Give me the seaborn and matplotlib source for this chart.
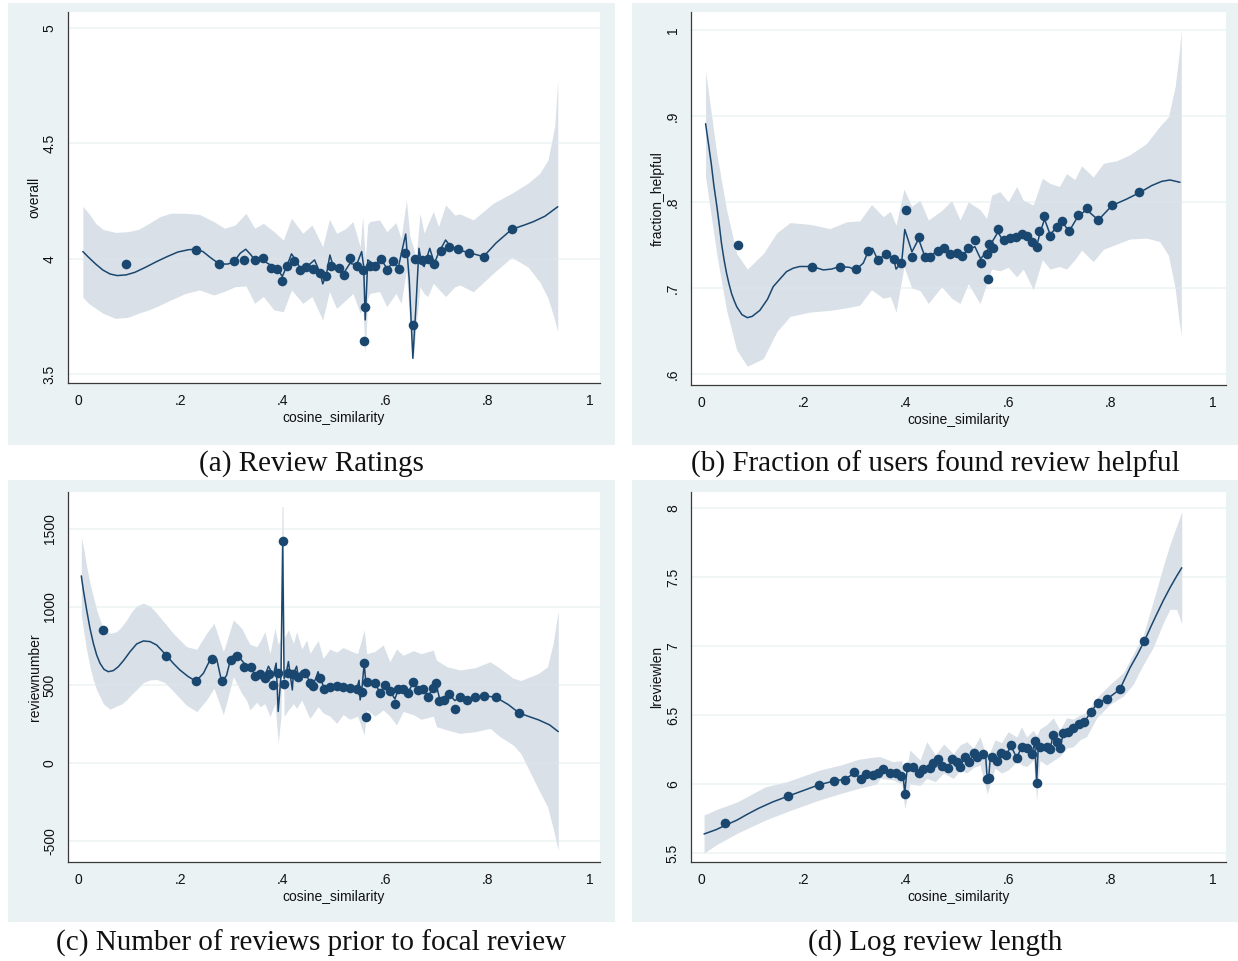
import numpy as np
import pandas as pd
import matplotlib
matplotlib.use("Agg")
import matplotlib.pyplot as plt
from matplotlib.patches import Rectangle
from matplotlib.ticker import FixedLocator, FuncFormatter
import seaborn as sns

# ---------------- (a) Review ratings ----------------
a_dot_x = [0.094, 0.230, 0.276, 0.304, 0.325, 0.345, 0.361, 0.376, 0.389, 0.399, 0.408, 0.421,
           0.434, 0.446, 0.459, 0.473, 0.485, 0.495, 0.509, 0.519, 0.531, 0.544, 0.556, 0.561,
           0.559, 0.570, 0.580, 0.592, 0.603, 0.616, 0.626, 0.639, 0.654, 0.659, 0.671, 0.683,
           0.696, 0.708, 0.724, 0.743, 0.764, 0.792, 0.847]
a_dot_y = [3.980, 4.039, 3.978, 3.990, 3.996, 3.996, 4.004, 3.962, 3.955, 3.903, 3.971, 3.993,
           3.952, 3.964, 3.955, 3.938, 3.928, 3.970, 3.960, 3.932, 4.003, 3.971, 3.952, 3.794,
           3.646, 3.970, 3.970, 4.001, 3.950, 3.991, 3.957, 4.027, 3.714, 4.001, 3.996, 4.001,
           3.978, 4.036, 4.053, 4.042, 4.027, 4.010, 4.128]
a_fit_x = [0.0095, 0.0207, 0.0346, 0.0486, 0.0625, 0.0765, 0.094, 0.111, 0.132, 0.153, 0.174,
           0.195, 0.216, 0.230, 0.244, 0.258, 0.276,
           0.2927, 0.304, 0.317, 0.3276, 0.338, 0.345, 0.361, 0.376, 0.389, 0.399, 0.408, 0.417,
           0.425, 0.434, 0.446, 0.462, 0.473, 0.478, 0.485, 0.492, 0.499, 0.509, 0.519, 0.531,
           0.544, 0.554, 0.558, 0.561, 0.566, 0.579, 0.592, 0.603, 0.616, 0.626, 0.640, 0.647,
           0.654, 0.660, 0.666, 0.671, 0.676, 0.687, 0.696, 0.704, 0.718, 0.725, 0.743, 0.764,
           0.792, 0.816, 0.847, 0.872, 0.889, 0.912, 0.937]
a_fit_y = [4.032, 4.007, 3.978, 3.952, 3.935, 3.928, 3.931, 3.942, 3.964, 3.988, 4.010,
           4.030, 4.040, 4.042, 4.032, 4.007, 3.978,
           3.978, 3.987, 4.025, 4.042, 4.017, 3.996, 3.993, 3.974, 3.960, 3.924, 3.970, 4.022,
           3.996, 3.960, 3.964, 3.996, 3.938, 3.892, 3.931, 4.017, 3.964, 3.960, 3.938, 3.981,
           3.974, 4.032, 3.967, 3.736, 3.996, 3.974, 3.999, 3.960, 3.981, 3.967, 4.108, 3.909,
           3.570, 3.794, 4.046, 3.981, 3.967, 4.046, 3.981, 4.025, 4.082, 4.061, 4.039, 4.027,
           4.010, 4.068, 4.128, 4.147, 4.161, 4.185, 4.226]
a_band_x = [0.0095, 0.0207, 0.0346, 0.0486, 0.073, 0.097, 0.118, 0.139, 0.160, 0.181, 0.209,
            0.237, 0.265, 0.286, 0.307, 0.328, 0.345,
            0.362, 0.383, 0.401, 0.417, 0.439, 0.457, 0.478, 0.491, 0.505, 0.522, 0.537, 0.551,
            0.556, 0.561, 0.566, 0.570, 0.589, 0.603, 0.621, 0.631, 0.6414, 0.648, 0.655, 0.660,
            0.668, 0.676, 0.683, 0.694, 0.704, 0.718, 0.736, 0.746, 0.772, 0.811, 0.847, 0.879,
            0.902, 0.918, 0.931, 0.937]
a_band_hi = [4.227, 4.198, 4.154, 4.128, 4.115, 4.118, 4.128, 4.154, 4.183, 4.198, 4.198,
             4.193, 4.162, 4.133, 4.147, 4.198, 4.133,
             4.154, 4.118, 4.082, 4.176, 4.111, 4.147, 4.053, 4.172, 4.111, 4.130, 4.162, 4.053,
             4.183, 4.000, 4.150, 4.162, 4.169, 4.118, 4.157, 4.089, 4.255, 4.100, 4.050, 4.000,
             4.198, 4.111, 4.150, 4.205, 4.140, 4.234, 4.190, 4.195, 4.169, 4.241, 4.284, 4.328,
             4.371, 4.429, 4.574, 4.772]
a_band_lo = [3.834, 3.808, 3.786, 3.765, 3.743, 3.747, 3.765, 3.780, 3.800, 3.822, 3.850,
             3.866, 3.844, 3.860, 3.880, 3.883, 3.808,
             3.837, 3.779, 3.772, 3.866, 3.808, 3.837, 3.736, 3.859, 3.786, 3.820, 3.851, 3.765,
             3.800, 3.592, 3.830, 3.851, 3.859, 3.794, 3.851, 3.808, 3.950, 3.720, 3.563, 3.700,
             3.880, 3.850, 3.837, 3.895, 3.870, 3.837, 3.880, 3.887, 3.858, 3.938, 4.007, 3.965,
             3.900, 3.830, 3.736, 3.685]

# ---------------- (b) Fraction helpful ----------------
b_dot_x = [0.0716, 0.2168, 0.2715, 0.302, 0.327, 0.345, 0.361, 0.377, 0.3906, 0.4004, 0.412,
           0.4251, 0.4375, 0.4473, 0.4635, 0.4753, 0.4863, 0.4993, 0.509, 0.522, 0.5345, 0.546,
           0.558, 0.560, 0.5632, 0.5697, 0.5807, 0.5918, 0.6035, 0.6152, 0.6263, 0.636, 0.646,
           0.6556, 0.660, 0.6706, 0.6816, 0.6947, 0.7045, 0.7194, 0.7357, 0.7533, 0.776, 0.8034,
           0.856]
b_dot_y = [0.750, 0.7248, 0.7248, 0.7217, 0.7434, 0.7326, 0.7392, 0.7334, 0.7287, 0.7907, 0.7357,
           0.7597, 0.7364, 0.7357, 0.7434, 0.7461, 0.7395, 0.7410, 0.7372, 0.7461, 0.7558, 0.7287,
           0.7395, 0.7105, 0.7512, 0.7461, 0.7686, 0.7558, 0.7578, 0.7597, 0.7624, 0.7608, 0.7539,
           0.7480, 0.7663, 0.7837, 0.7605, 0.7713, 0.7783, 0.7663, 0.7845, 0.7926, 0.7790, 0.7961,
           0.8113]
b_fit_x = [0.009, 0.015, 0.02, 0.025, 0.031, 0.036, 0.04, 0.045, 0.050, 0.055, 0.06, 0.065,
           0.070, 0.08, 0.0905, 0.10, 0.115, 0.13, 0.141,
           0.155, 0.167, 0.18, 0.193, 0.217, 0.239, 0.255, 0.2715, 0.29, 0.302, 0.317, 0.327,
           0.335, 0.345, 0.361, 0.376, 0.381, 0.392, 0.398, 0.404, 0.412, 0.425, 0.437, 0.451,
           0.4616, 0.475, 0.486, 0.50, 0.509, 0.522, 0.535, 0.546, 0.558, 0.565, 0.58, 0.592,
           0.603, 0.615, 0.626, 0.636, 0.646, 0.656, 0.662, 0.671, 0.682, 0.695, 0.705, 0.719,
           0.736, 0.753, 0.776, 0.803, 0.83, 0.857, 0.88, 0.90, 0.916, 0.9355]
b_fit_y = [0.891, 0.866, 0.845, 0.820, 0.795, 0.772, 0.752, 0.733, 0.717, 0.704, 0.693, 0.685,
           0.678, 0.669, 0.6655, 0.667, 0.674, 0.687, 0.7015,
           0.711, 0.719, 0.723, 0.725, 0.725, 0.721, 0.722, 0.725, 0.724, 0.721, 0.729,
           0.743, 0.746, 0.733, 0.739, 0.735, 0.722, 0.730, 0.768, 0.757, 0.742, 0.757, 0.737,
           0.738, 0.744, 0.746, 0.739, 0.741, 0.737, 0.745, 0.748, 0.734, 0.742, 0.750, 0.765,
           0.753, 0.759, 0.759, 0.762, 0.760, 0.750, 0.749, 0.764, 0.780, 0.762, 0.771, 0.777,
           0.766, 0.783, 0.791, 0.779, 0.796, 0.803, 0.811, 0.819, 0.824, 0.8256, 0.8229]
b_band_x = [0.009, 0.0306, 0.050, 0.0697, 0.0905, 0.1217, 0.148, 0.174, 0.213, 0.252, 0.2845,
            0.31, 0.333, 0.356, 0.370, 0.381, 0.3965, 0.4115, 0.4277, 0.444, 0.47, 0.4896,
            0.5059, 0.522, 0.545, 0.558, 0.5677, 0.584, 0.600, 0.6166, 0.6295, 0.649, 0.6667,
            0.6816, 0.70, 0.714, 0.73, 0.7435, 0.766, 0.786, 0.812, 0.838, 0.870, 0.896, 0.913,
            0.926, 0.934, 0.938]
b_band_hi = [0.952, 0.857, 0.791, 0.740, 0.722, 0.740, 0.764, 0.776, 0.774, 0.769, 0.777, 0.778,
             0.797, 0.783, 0.789, 0.773, 0.815, 0.795, 0.802, 0.779, 0.790, 0.8015, 0.779, 0.800,
             0.791, 0.781, 0.808, 0.812, 0.800, 0.818, 0.802, 0.7965, 0.8275, 0.8217, 0.818,
             0.833, 0.826, 0.842, 0.829, 0.845, 0.848, 0.855, 0.868, 0.888, 0.899, 0.934, 0.973,
             1.000]
b_band_lo = [0.829, 0.740, 0.674, 0.628, 0.609, 0.618, 0.649, 0.667, 0.672, 0.674, 0.677, 0.680,
             0.698, 0.688, 0.690, 0.672, 0.725, 0.700, 0.697, 0.682, 0.7015, 0.688, 0.682, 0.705,
             0.682, 0.705, 0.722, 0.720, 0.724, 0.713, 0.722, 0.698, 0.733, 0.722, 0.725, 0.722,
             0.733, 0.744, 0.7306, 0.745, 0.751, 0.757, 0.758, 0.754, 0.738, 0.700, 0.660, 0.645]

# ---------------- (c) Number of prior reviews ----------------
c_dot_x = [0.048, 0.172, 0.2305, 0.261, 0.282, 0.298, 0.311, 0.324, 0.337, 0.3457, 0.3555, 0.365,
           0.3737, 0.3815, 0.391, 0.3998, 0.402, 0.411, 0.4206, 0.430, 0.443, 0.453, 0.4596,
           0.4727, 0.481, 0.492, 0.505, 0.518, 0.531, 0.544, 0.554, 0.559, 0.562, 0.564, 0.580,
           0.590, 0.5996, 0.609, 0.619, 0.6256, 0.635, 0.645, 0.655, 0.6647, 0.674, 0.684, 0.694,
           0.699, 0.7057, 0.715, 0.725, 0.736, 0.746, 0.759, 0.775, 0.793, 0.816, 0.862]
c_dot_y = [855, 688, 524, 669, 524, 660, 686, 617, 613, 558, 570, 543, 570, 498, 579, 1425, 504,
           575, 570, 549, 579, 515, 494, 543, 472, 485, 494, 485, 479, 472, 457, 639, 293, 521,
           511, 447, 500, 463, 378, 472, 472, 451, 521, 468, 472, 425, 479, 515, 399, 404, 440,
           348, 421, 404, 421, 431, 421, 319]
c_fit_x = [0.0065, 0.0104, 0.0169, 0.0234, 0.030, 0.0365, 0.043, 0.0508, 0.0592, 0.069, 0.0788,
           0.0898, 0.1016, 0.1146, 0.1276, 0.1406, 0.1537, 0.172, 0.186, 0.199, 0.2155,
           0.2305, 0.245, 0.261, 0.271, 0.2806, 0.29, 0.298, 0.3066, 0.318, 0.328, 0.337, 0.3457,
           0.3555, 0.365, 0.372, 0.3815, 0.387, 0.391, 0.3965, 0.3998, 0.4025, 0.407, 0.411,
           0.4186, 0.4206, 0.427, 0.430, 0.437, 0.443, 0.453, 0.4596, 0.469, 0.4727, 0.481, 0.492,
           0.505, 0.518, 0.531, 0.544, 0.549, 0.551, 0.554, 0.559, 0.562, 0.564, 0.580, 0.590,
           0.5996, 0.609, 0.619, 0.6256, 0.635, 0.645, 0.655, 0.6647, 0.674, 0.684, 0.694, 0.699,
           0.7057, 0.715, 0.725, 0.736, 0.746, 0.759, 0.775, 0.793, 0.816, 0.84, 0.862, 0.8996,
           0.921, 0.938]
c_fit_y = [1199, 1109, 981, 863, 767, 692, 639, 600, 585, 592, 617,
           660, 713, 763, 782, 778, 756, 692, 639, 596, 553,
           524, 575, 681, 665, 521, 560,
           665, 703, 665, 625, 613, 565, 570, 560, 620, 560, 640, 330, 560, 1425, 540, 580, 650,
           468, 570, 620, 560, 590, 579, 520, 500, 585, 543, 480, 485, 494, 485, 480, 472, 530,
           404, 457, 639, 520, 521, 511, 450, 500, 463, 410, 472, 472, 455, 515, 470, 472, 430,
           480, 510, 420, 410, 440, 400, 420, 405, 421, 431, 421, 375, 319, 276, 244, 201]
c_band_x = [0.0065, 0.0117, 0.017, 0.0234, 0.030, 0.0365, 0.043, 0.0495, 0.0625, 0.0755,
            0.0853, 0.095, 0.1048, 0.1146, 0.1276, 0.1406, 0.1537, 0.1699, 0.186, 0.212, 0.232,
            0.251, 0.2656, 0.284, 0.3034, 0.3197, 0.3295, 0.336, 0.349, 0.3555,
            0.365, 0.375, 0.3848, 0.391, 0.3965, 0.3985, 0.4005, 0.4025, 0.411, 0.4206, 0.427,
            0.437, 0.4467, 0.453, 0.469, 0.479, 0.492, 0.505, 0.518, 0.531, 0.546, 0.559, 0.564,
            0.58, 0.596, 0.609, 0.622, 0.635, 0.655, 0.67, 0.694, 0.70, 0.72, 0.746, 0.775, 0.805,
            0.824, 0.850, 0.865, 0.90, 0.917, 0.928, 0.938]
c_band_hi = [1447, 1365, 1258, 1152, 1066, 981, 917, 863, 830, 842,
             874, 917, 970, 1006, 1024, 1006, 960, 895, 831, 745, 729,
             831, 895, 713, 917, 863, 799, 760, 745, 778,
             842, 700, 863, 760, 800, 1643, 1643, 800, 853, 767,
             842, 730, 788, 703, 784, 671, 730, 710, 740, 720, 700, 853, 700, 715, 756, 649, 730,
             690, 720, 700, 724, 660, 617, 596, 610, 649, 607, 543, 528, 575, 617, 767, 975]
c_band_lo = [949, 831, 724, 617, 532, 468, 425, 380, 344, 365,
             378, 405, 440, 470, 515, 532, 535, 515, 460, 370, 329,
             404, 479, 310, 553, 447, 400, 340, 390, 361,
             380, 297, 380, 126, 300, 1200, 1200, 300, 340, 380, 350,
             404, 330, 286, 361, 320, 300, 254, 310, 280, 300, 180, 340, 300, 340, 300, 244, 330,
             310, 280, 300, 233, 212, 190, 200, 222, 169, 115, 60, -173, -280, -420, -560]

# ---------------- (d) Log review length ----------------
d_dot_x = [0.047, 0.170, 0.231, 0.260, 0.281, 0.298, 0.3125, 0.323, 0.3357, 0.346, 0.356, 0.369,
           0.381, 0.390, 0.398, 0.403, 0.415, 0.426, 0.434, 0.447, 0.454, 0.4635, 0.470, 0.483,
           0.4896, 0.4993, 0.506, 0.5156, 0.524, 0.533, 0.540, 0.550, 0.559, 0.562, 0.568, 0.5775,
           0.5853, 0.5957, 0.6055, 0.6166, 0.626, 0.637, 0.646, 0.652, 0.6556, 0.662, 0.675,
           0.6816, 0.687, 0.695, 0.701, 0.7077, 0.717, 0.727, 0.738, 0.749, 0.762, 0.776, 0.7936,
           0.818, 0.866]
d_dot_y = [5.717, 5.915, 5.995, 6.024, 6.031, 6.085, 6.038, 6.072, 6.065, 6.077, 6.107, 6.082,
           6.077, 6.058, 5.928, 6.121, 6.126, 6.077, 6.107, 6.114, 6.155, 6.179, 6.130, 6.114,
           6.179, 6.162, 6.126, 6.198, 6.162, 6.227, 6.198, 6.217, 6.034, 6.041, 6.198, 6.169,
           6.227, 6.210, 6.283, 6.186, 6.270, 6.259, 6.217, 6.314, 6.005, 6.270, 6.270, 6.251,
           6.355, 6.307, 6.259, 6.372, 6.379, 6.404, 6.435, 6.451, 6.524, 6.589, 6.618, 6.686,
           7.036]
d_fit_x = [0.006, 0.03, 0.047, 0.0705, 0.09, 0.1125, 0.14, 0.170, 0.203, 0.231, 0.260, 0.281,
           0.298, 0.3125, 0.323, 0.3357, 0.346, 0.356, 0.369, 0.381, 0.390, 0.395, 0.398, 0.401,
           0.403, 0.415, 0.426, 0.434, 0.447, 0.4635, 0.470, 0.483, 0.4896, 0.4993, 0.506,
           0.5156, 0.524, 0.533, 0.540, 0.550, 0.556, 0.559, 0.562, 0.565, 0.5775, 0.5853,
           0.5957, 0.6055, 0.6166, 0.626, 0.637, 0.646, 0.652, 0.6556, 0.659, 0.662, 0.675,
           0.6816, 0.687, 0.695, 0.701, 0.7077, 0.717, 0.727, 0.738, 0.749, 0.762, 0.776, 0.7936,
           0.818, 0.838, 0.852, 0.866, 0.878, 0.890, 0.903, 0.916, 0.928, 0.939]
d_fit_y = [5.638, 5.670, 5.700, 5.739, 5.780, 5.824, 5.870, 5.912, 5.957, 5.995, 6.022, 6.035,
           6.075, 6.045, 6.070, 6.068, 6.076, 6.100, 6.085, 6.078, 6.065, 6.050, 5.935, 6.050,
           6.120, 6.122, 6.085, 6.105, 6.115, 6.170, 6.135, 6.118, 6.170, 6.160, 6.130, 6.190,
           6.165, 6.220, 6.200, 6.212, 6.200, 6.040, 6.050, 6.190, 6.170, 6.220, 6.210, 6.275,
           6.190, 6.265, 6.255, 6.220, 6.300, 6.010, 6.290, 6.270, 6.270, 6.250, 6.340, 6.310,
           6.260, 6.365, 6.378, 6.402, 6.433, 6.450, 6.527, 6.590, 6.617, 6.686, 6.843, 6.935,
           7.036, 7.135, 7.230, 7.330, 7.422, 7.500, 7.567]
d_band_x = [0.006, 0.03, 0.0705, 0.126, 0.168, 0.231, 0.273, 0.308, 0.343, 0.3496, 0.375, 0.392,
            0.398, 0.408, 0.428, 0.441, 0.4577, 0.474, 0.4928, 0.506, 0.519, 0.532, 0.545, 0.559,
            0.574, 0.587, 0.600, 0.6166, 0.626, 0.636, 0.6491, 0.6556, 0.662, 0.675, 0.688,
            0.701, 0.714, 0.727, 0.74, 0.753, 0.773, 0.799, 0.825, 0.844, 0.864, 0.883, 0.903,
            0.916, 0.929, 0.939]
d_band_hi = [5.775, 5.815, 5.870, 5.980, 6.017, 6.100, 6.138, 6.179, 6.198, 6.198, 6.162, 6.170,
             6.020, 6.246, 6.174, 6.307, 6.210, 6.290, 6.220, 6.283, 6.307, 6.260, 6.343, 6.180,
             6.320, 6.300, 6.379, 6.340, 6.415, 6.340, 6.390, 6.350, 6.400, 6.430, 6.480, 6.390,
             6.480, 6.470, 6.500, 6.520, 6.625, 6.722, 6.807, 6.940, 7.080, 7.320, 7.580, 7.737,
             7.870, 7.973]
d_band_lo = [5.500, 5.560, 5.643, 5.739, 5.800, 5.884, 5.932, 5.969, 6.000, 6.041, 6.030, 6.000,
             5.820, 6.000, 5.990, 6.041, 6.017, 6.080, 6.040, 6.100, 6.080, 6.120, 6.138, 5.930,
             6.114, 6.080, 6.102, 6.162, 6.140, 6.126, 6.174, 5.884, 6.170, 6.138, 6.170, 6.200,
             6.260, 6.270, 6.320, 6.343, 6.480, 6.578, 6.638, 6.722, 6.867, 6.988, 7.169, 7.266,
             7.266, 7.160]

# ---------------- panel settings ----------------
y_labels = ["overall", "fraction_helpful", "reviewnumber", "lreviewlen"]
captions = ["(a) Review Ratings", "(b) Fraction of users found review helpful",
            "(c) Number of reviews prior to focal review", "(d) Log review length"]
x_ticks = [0, 0.2, 0.4, 0.6, 0.8, 1]
y_ticks = [[3.5, 4, 4.5, 5], [0.6, 0.7, 0.8, 0.9, 1], [-500, 0, 500, 1000, 1500],
           [5.5, 6, 6.5, 7, 7.5, 8]]
y_limits = [(3.463, 5.069), (0.5872, 1.0209), (-635, 1737), (5.435, 8.116)]
x_limits = [(-0.0195, 1.0195), (-0.0195, 1.0254), (-0.0195, 1.0195), (-0.0195, 1.0254)]

NAVY = "#1A476F"
BAND = "#D9E0E8"
OUTER = "#EAF2F3"
GRID = "#DCE8EC"

W, H = 1238, 961
sns.set_style("white")
plt.rcParams["font.family"] = ["Liberation Sans", "DejaVu Sans"]
fig = plt.figure(figsize=(W / 100, H / 100), dpi=100)
fig.patch.set_facecolor("white")

# pixel boxes: outer region (l, t, r, b) and plot region (l, t, r, b)
outer_boxes = [(8, 3, 615, 445), (632, 3, 1238, 445), (8, 480, 615, 922), (632, 480, 1238, 922)]
plot_boxes = [(68, 12, 600, 383), (691, 12, 1226, 385), (68, 492, 600, 862), (691, 492, 1226, 862)]
caption_y = [464, 464, 943, 943]


def stata_fmt(v, _pos=None):
    if abs(v - round(v)) < 1e-9:
        return str(int(round(v)))
    s = f"{v:g}"
    if s.startswith("0."):
        s = s[1:]
    elif s.startswith("-0."):
        s = "-" + s[2:]
    return s


panels = [
    (a_dot_x, a_dot_y, a_fit_x, a_fit_y, a_band_x, a_band_lo, a_band_hi),
    (b_dot_x, b_dot_y, b_fit_x, b_fit_y, b_band_x, b_band_lo, b_band_hi),
    (c_dot_x, c_dot_y, c_fit_x, c_fit_y, c_band_x, c_band_lo, c_band_hi),
    (d_dot_x, d_dot_y, d_fit_x, d_fit_y, d_band_x, d_band_lo, d_band_hi),
]

for i, (dx, dy, fx, fy, bx, blo, bhi) in enumerate(panels):
    ol, ot, orr, ob = outer_boxes[i]
    fig.patches.append(Rectangle((ol / W, 1 - ob / H), (orr - ol) / W, (ob - ot) / H,
                                 transform=fig.transFigure, facecolor=OUTER,
                                 edgecolor="none", zorder=0))
    l, t, r, b = plot_boxes[i]
    ax = fig.add_axes([l / W, 1 - b / H, (r - l) / W, (b - t) / H])
    ax.set_facecolor("white")
    ax.set_zorder(1)

    ax.fill_between(bx, blo, bhi, color=BAND, linewidth=0, zorder=1)
    for yt in y_ticks[i]:
        ax.axhline(yt, color=GRID, lw=1.1, alpha=0.55, zorder=1.5)

    fit_df = pd.DataFrame({"x": fx, "y": fy})
    sns.lineplot(data=fit_df, x="x", y="y", ax=ax, color=NAVY, linewidth=1.1,
                 estimator=None, sort=False, zorder=3)
    dot_df = pd.DataFrame({"x": dx, "y": dy})
    sns.scatterplot(data=dot_df, x="x", y="y", ax=ax, color=NAVY, s=48,
                    linewidth=0, zorder=4)

    ax.set_xlim(*x_limits[i])
    ax.set_ylim(*y_limits[i])
    ax.xaxis.set_major_locator(FixedLocator(x_ticks))
    ax.yaxis.set_major_locator(FixedLocator(y_ticks[i]))
    ax.xaxis.set_major_formatter(FuncFormatter(stata_fmt))
    ax.yaxis.set_major_formatter(FuncFormatter(stata_fmt))
    for side in ("top", "right"):
        ax.spines[side].set_visible(False)
    for side in ("left", "bottom"):
        ax.spines[side].set_color("#3A3A3A")
        ax.spines[side].set_linewidth(0.9)
    ax.tick_params(axis="both", direction="out", length=5, width=0.9, color="#3A3A3A",
                   labelsize=10, labelcolor="#111111", pad=3)
    plt.setp(ax.get_yticklabels(), rotation=90, va="center")
    ax.set_xlabel("cosine_similarity", fontsize=10, color="#111111", labelpad=2)
    ax.set_ylabel(y_labels[i], fontsize=10, color="#111111", labelpad=1)
    ax.grid(False)

    fig.text(((ol + orr) / 2) / W, 1 - caption_y[i] / H, captions[i],
             ha="center", va="center", fontsize=21,
             family=["Liberation Serif", "DejaVu Serif"], color="#111111")

fig.savefig("out.png", dpi=100, facecolor="white")
